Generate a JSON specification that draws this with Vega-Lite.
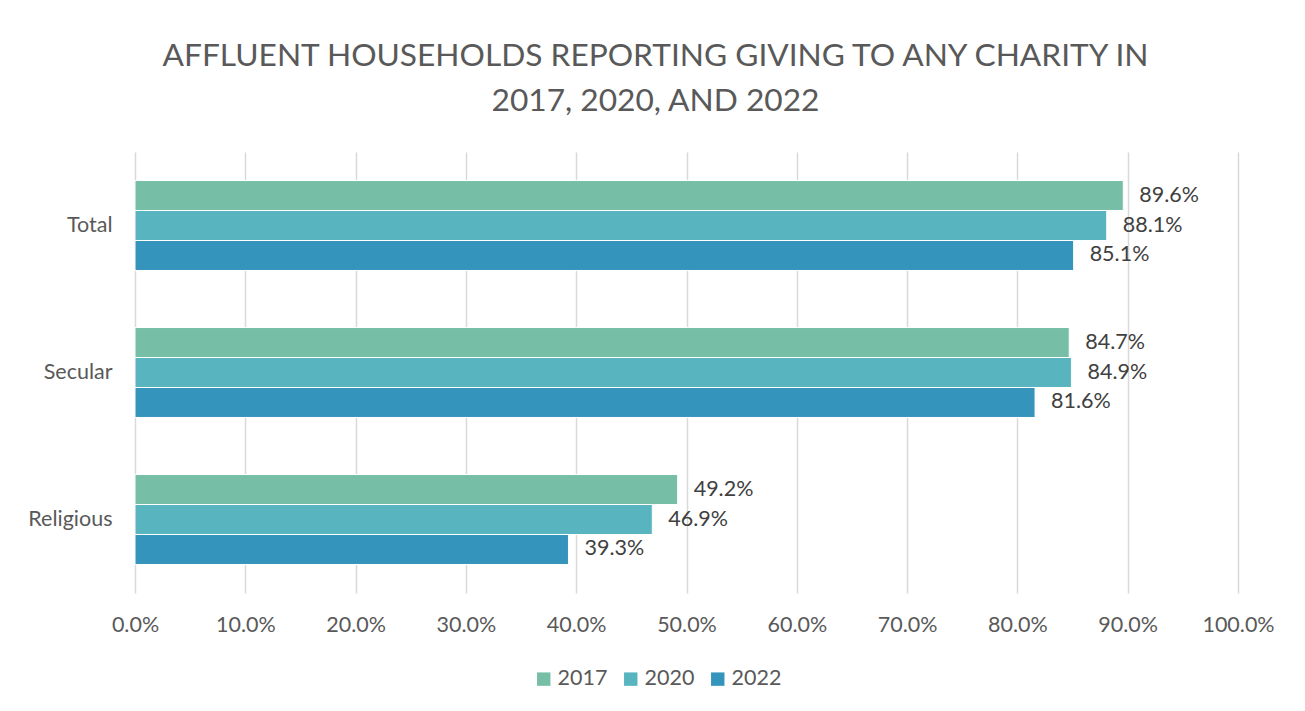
{
  "$schema": "https://vega.github.io/schema/vega-lite/v6.json",
  "width": 1103,
  "height": 441,
  "autosize": "none",
  "padding": {"left": 135, "top": 152, "right": 67, "bottom": 118},
  "background": "white",
  "title": {
    "text": ["AFFLUENT HOUSEHOLDS REPORTING GIVING TO ANY CHARITY IN", "2017, 2020, AND 2022"],
    "font": "Lato",
    "fontSize": 31.7,
    "fontWeight": "normal",
    "color": "#595959",
    "anchor": "middle",
    "dx": -31,
    "offset": 34,
    "lineHeight": 45
  },
  "config": {
    "view": {"stroke": null},
    "font": "Lato"
  },
  "data": {
    "values": [
      {"category": "Total", "year": "2017", "value": 0.896},
      {"category": "Total", "year": "2020", "value": 0.881},
      {"category": "Total", "year": "2022", "value": 0.851},
      {"category": "Secular", "year": "2017", "value": 0.847},
      {"category": "Secular", "year": "2020", "value": 0.849},
      {"category": "Secular", "year": "2022", "value": 0.816},
      {"category": "Religious", "year": "2017", "value": 0.492},
      {"category": "Religious", "year": "2020", "value": 0.469},
      {"category": "Religious", "year": "2022", "value": 0.393}
    ]
  },
  "encoding": {
    "y": {
      "field": "category",
      "type": "nominal",
      "sort": ["Total", "Secular", "Religious"],
      "scale": {"paddingInner": 0.388, "paddingOuter": 0.194},
      "axis": {
        "title": null,
        "domain": false,
        "ticks": false,
        "labelFontSize": 21.5,
        "labelColor": "#595959",
        "labelPadding": 23,
        "labelFont": "Lato"
      }
    },
    "yOffset": {
      "field": "year",
      "type": "nominal",
      "sort": ["2017", "2020", "2022"],
      "scale": {"paddingInner": 0, "paddingOuter": 0}
    },
    "x": {
      "field": "value",
      "type": "quantitative",
      "scale": {"domain": [0, 1]},
      "axis": {
        "title": null,
        "format": ".1%",
        "values": [0, 0.1, 0.2, 0.3, 0.4, 0.5, 0.6, 0.7, 0.8, 0.9, 1.0],
        "domain": false,
        "ticks": false,
        "grid": true,
        "gridColor": "#d9d9d9",
        "gridWidth": 1.5,
        "labelFlush": false,
        "labelOverlap": false,
        "labelFontSize": 21.5,
        "labelColor": "#595959",
        "labelPadding": 21,
        "labelFont": "Lato"
      }
    }
  },
  "layer": [
    {
      "mark": {"type": "bar", "stroke": "white", "strokeWidth": 1},
      "encoding": {
        "color": {
          "field": "year",
          "type": "nominal",
          "sort": ["2017", "2020", "2022"],
          "scale": {"domain": ["2017", "2020", "2022"], "range": ["#76BFA6", "#58B5BF", "#3594BB"]},
          "legend": {
            "title": null,
            "orient": "none",
            "legendX": 398,
            "legendY": 516,
            "direction": "horizontal",
            "symbolType": "square",
            "symbolSize": 180,
            "symbolStrokeWidth": 0,
            "labelFontSize": 21.5,
            "labelColor": "#595959",
            "labelFont": "Lato",
            "columnPadding": 12,
            "labelOffset": 3
          }
        }
      }
    },
    {
      "mark": {"type": "text", "align": "left", "baseline": "middle", "dx": 16, "fontSize": 21.5, "color": "#404040", "font": "Lato"},
      "encoding": {
        "text": {"field": "value", "type": "quantitative", "format": ".1%"}
      }
    }
  ]
}
